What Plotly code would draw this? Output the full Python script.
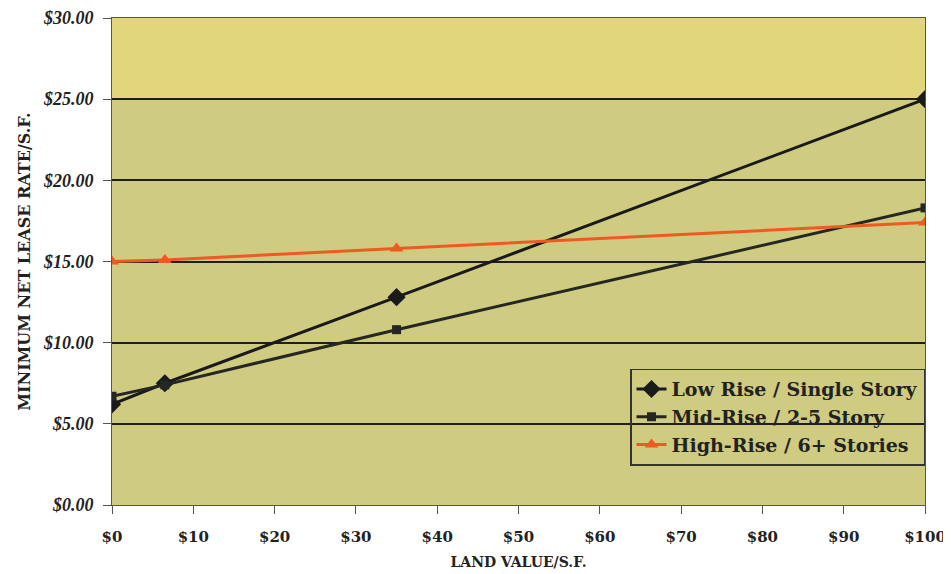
import plotly.graph_objects as go

land_value = [0, 6.5, 35, 100]
low_rise = [6.2, 7.5, 12.8, 25.0]
mid_rise = [6.7, 7.4, 10.8, 18.3]
high_rise = [15.0, 15.1, 15.8, 17.4]

x_ticks = [0, 10, 20, 30, 40, 50, 60, 70, 80, 90, 100]
x_tick_labels = ["$0", "$10", "$20", "$30", "$40", "$50", "$60", "$70", "$80", "$90", "$100"]
y_ticks = [0, 5, 10, 15, 20, 25, 30]
y_tick_labels = ["$0.00", "$5.00", "$10.00", "$15.00", "$20.00", "$25.00", "$30.00"]

serif = "DejaVu Serif, Liberation Serif, serif"
serif2 = "Liberation Serif, DejaVu Serif, serif"

fig = go.Figure()
fig.add_trace(go.Scatter(x=land_value, y=low_rise, name="<b>Low Rise / Single Story</b>",
                         mode="lines+markers", line=dict(color="#1a1a1a", width=3),
                         marker=dict(symbol="diamond", size=14, color="#1a1a1a")))
fig.add_trace(go.Scatter(x=land_value, y=mid_rise, name="<b>Mid-Rise / 2-5 Story</b>",
                         mode="lines+markers", line=dict(color="#262622", width=3),
                         marker=dict(symbol="square", size=9, color="#262622")))
fig.add_trace(go.Scatter(x=land_value, y=high_rise, name="<b>High-Rise / 6+ Stories</b>",
                         mode="lines+markers", line=dict(color="#ee5a22", width=3),
                         marker=dict(symbol="triangle-up", size=12, color="#ee5a22")))

# yellower band near the top of the plot area
fig.add_shape(type="rect", xref="x domain", yref="y", x0=0, x1=1, y0=25, y1=30,
              fillcolor="#e2d67a", line=dict(width=0), layer="below")

fig.update_layout(
    width=951, height=574,
    margin=dict(l=104, r=34, t=10, b=77, autoexpand=False),
    paper_bgcolor="white",
    plot_bgcolor="#cfcb80",
    font=dict(family=serif, color="#1a1a1a"),
    showlegend=True,
    legend=dict(x=1, y=0.28, xanchor="right", yanchor="top",
                bgcolor="rgba(0,0,0,0)", bordercolor="#333333", borderwidth=1.5,
                font=dict(family=serif, size=19, color="#222222"),
                tracegroupgap=0),
    xaxis=dict(range=[0, 100], tickvals=x_ticks, ticktext=x_tick_labels,
               showgrid=False, zeroline=False, showline=True, linecolor="#555555",
               ticks="outside", ticklen=8, tickcolor="#555555", ticklabelstandoff=10,
               tickfont=dict(family=serif, size=15, color="#222222", weight="bold"),
               title=dict(text="<b>LAND VALUE/S.F.</b>", font=dict(family=serif, size=14, color="#222222"),
                          standoff=12),
               mirror=True, automargin=False),
    yaxis=dict(range=[0, 30], tickvals=y_ticks, ticktext=y_tick_labels,
               showgrid=True, gridcolor="#1f1f1f", gridwidth=1.5, zeroline=False,
               showline=True, linecolor="#555555", ticks="outside", ticklen=8,
               tickcolor="#555555", ticklabelstandoff=6,
               tickfont=dict(family=serif2, size=18, color="#222222", weight="bold", style="italic"),
               title=dict(text="<b>MINIMUM NET LEASE RATE/S.F.</b>",
                          font=dict(family=serif, size=16, color="#222222"), standoff=8),
               mirror=True, automargin=False),
)

fig.write_html("out.html")
